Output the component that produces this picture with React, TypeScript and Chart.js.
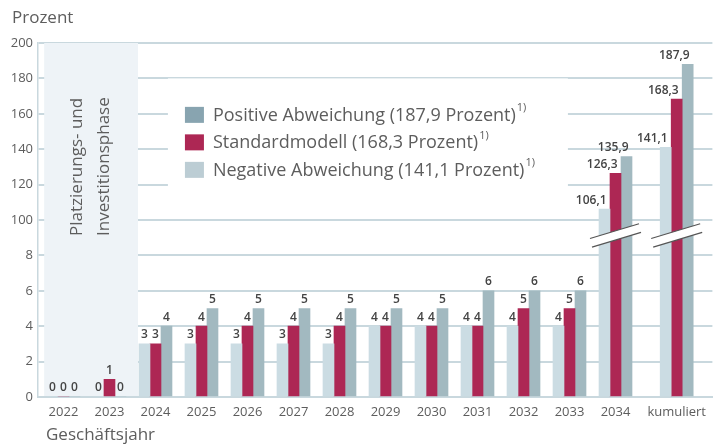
import React, { useEffect, useRef } from "react";
import { Chart, registerables } from "chart.js";

Chart.register(...registerables);

const categories = ["2022", "2023", "2024", "2025", "2026", "2027", "2028", "2029", "2030", "2031", "2032", "2033", "2034", "kumuliert"];
const negative = [0, 0, 3, 3, 3, 3, 3, 4, 4, 4, 4, 4, 106.1, 141.1];
const standard = [0, 1, 3, 4, 4, 4, 4, 4, 4, 4, 5, 5, 126.3, 168.3];
const positive = [0, 0, 4, 5, 5, 5, 5, 5, 5, 6, 6, 6, 135.9, 187.9];
const yTickLabels = ["0", "2", "4", "6", "8", "100", "120", "140", "160", "180", "200"];
const legendLabels = [
  "Positive Abweichung (187,9 Prozent)",
  "Standardmodell (168,3 Prozent)",
  "Negative Abweichung (141,1 Prozent)",
];
const phaseLines = ["Platzierungs- und", "Investitionsphase"];
const yTitle = "Prozent";
const xTitle = "Geschäftsjahr";
const footnote = "1)";

const FONT = '"Open Sans", "Noto Sans", sans-serif';
const TEXT = "#5d5d5d";
const GRID = "#c9d8de";
const C_NEG = "#cbdce3";
const C_STD = "#ad2754";
const C_POS = "#a2b9c0";
const L_NEG = "#bccdd4";
const L_POS = "#88a4b0";
const SUMMARY_GAP = 0.33;
const BREAK_AT = 4.56; // axis units where the broken-axis symbol sits

// broken axis: 0..8 -> 0..4, 100..200 -> 5..10
const toAxis = (v: number) => (v <= 8 ? v / 2 : 5 + (v - 100) / 20);
const xPos = (i: number) => i + (i === categories.length - 1 ? SUMMARY_GAP : 0);
const fmt = (v: number) => (v >= 100 ? v.toFixed(1).replace(".", ",") : String(v));

const rawSeries = [negative, standard, positive];

const overlay = {
  id: "overlay",
  beforeDatasetsDraw(chart: any) {
    const { ctx, chartArea } = chart;
    const xs = chart.scales.x;
    const ys = chart.scales.y;
    ctx.save();
    // phase shading
    const x0 = xs.getPixelForValue(-0.42);
    const x1 = xs.getPixelForValue(1.62);
    ctx.fillStyle = "#eef3f7";
    ctx.fillRect(x0, chartArea.top, x1 - x0, chartArea.bottom - chartArea.top - 1);
    // rotated phase text
    ctx.fillStyle = TEXT;
    ctx.font = `17px ${FONT}`;
    ctx.textAlign = "left";
    ctx.textBaseline = "middle";
    const startY = ys.getPixelForValue(4.55);
    const cx = (x0 + x1) / 2;
    [cx - 14, cx + 13].forEach((lx, k) => {
      ctx.save();
      ctx.translate(lx, startY);
      ctx.rotate(-Math.PI / 2);
      ctx.fillText(phaseLines[k], 0, 0);
      ctx.restore();
    });
    // legend white background (hides gridlines)
    ctx.fillStyle = "#ffffff";
    ctx.fillRect(xs.getPixelForValue(2.27), ys.getPixelForValue(9.0), 400, 120);
    ctx.restore();
  },
  afterDatasetsDraw(chart: any) {
    const { ctx } = chart;
    const xs = chart.scales.x;
    const ys = chart.scales.y;
    ctx.save();
    // legend
    const lx = xs.getPixelForValue(2.64);
    const ly0 = ys.getPixelForValue(7.97);
    const legendColors = [L_POS, C_STD, L_NEG];
    legendLabels.forEach((lab, k) => {
      const cy = ly0 + k * 27.5;
      ctx.fillStyle = legendColors[k];
      ctx.fillRect(lx, cy - 8, 19, 16);
      ctx.fillStyle = TEXT;
      ctx.font = `18px ${FONT}`;
      ctx.textAlign = "left";
      ctx.textBaseline = "middle";
      ctx.fillText(lab, lx + 28, cy + 1);
      const w = ctx.measureText(lab).width;
      ctx.font = `11px ${FONT}`;
      ctx.fillText(footnote, lx + 28 + w + 1, cy - 7);
    });
    // data labels
    ctx.fillStyle = "#444";
    ctx.font = `600 12px ${FONT}`;
    ctx.textBaseline = "bottom";
    rawSeries.forEach((vals, di) => {
      const meta = chart.getDatasetMeta(di);
      meta.data.forEach((bar: any, i: number) => {
        const v = vals[i];
        if (v >= 100) {
          ctx.textAlign = "right";
          ctx.fillText(fmt(v), bar.x + 2, bar.y - 3);
        } else {
          ctx.textAlign = "center";
          ctx.fillText(fmt(v), bar.x, bar.y - 3);
        }
      });
    });
    // broken-axis symbols
    const by = ys.getPixelForValue(BREAK_AT);
    const m0 = chart.getDatasetMeta(0);
    const m2 = chart.getDatasetMeta(2);
    categories.forEach((_, i) => {
      const vmax = Math.max(negative[i], standard[i], positive[i]);
      if (vmax < 100) return;
      const b0 = m0.data[i];
      const b2 = m2.data[i];
      const xa = b0.x - b0.width / 2 - 9;
      const xb = b2.x + b2.width / 2 + 8;
      const cxm = (xa + xb) / 2;
      const slope = -0.3;
      const half = 4.6;
      const yAt = (x: number, off: number) => by + off + slope * (x - cxm);
      ctx.fillStyle = "#ffffff";
      ctx.beginPath();
      ctx.moveTo(xa, yAt(xa, -half));
      ctx.lineTo(xb, yAt(xb, -half));
      ctx.lineTo(xb, yAt(xb, half));
      ctx.lineTo(xa, yAt(xa, half));
      ctx.closePath();
      ctx.fill();
      ctx.strokeStyle = "#555";
      ctx.lineWidth = 1.2;
      [-half, half].forEach((off, k) => {
        ctx.beginPath();
        ctx.moveTo(xa + k * 2, yAt(xa + k * 2, off));
        ctx.lineTo(xb + k * 2 - 1, yAt(xb + k * 2 - 1, off));
        ctx.stroke();
      });
    });
    // axis titles
    ctx.fillStyle = TEXT;
    ctx.font = `17px ${FONT}`;
    ctx.textAlign = "left";
    ctx.textBaseline = "alphabetic";
    ctx.fillText(yTitle, 12, 23);
    ctx.fillText(xTitle, 46, 440);
    ctx.restore();
  },
};

export default function App() {
  const ref = useRef<HTMLCanvasElement | null>(null);
  useEffect(() => {
    if (!ref.current) return;
    const mk = (vals: number[], color: string, label: string) => ({
      label,
      data: vals.map((v, i) => ({ x: xPos(i), y: toAxis(v) })),
      backgroundColor: color,
      borderWidth: 0,
      barThickness: 11,
    });
    const chart = new Chart(ref.current, {
      type: "bar",
      data: {
        datasets: [
          mk(negative, C_NEG, legendLabels[2]),
          mk(standard, C_STD, legendLabels[1]),
          mk(positive, C_POS, legendLabels[0]),
        ],
      },
      options: {
        responsive: false,
        animation: false,
        layout: { padding: { top: 43, right: 0, left: 0, bottom: 0 } },
        plugins: { legend: { display: false }, tooltip: { enabled: false } },
        scales: {
          x: {
            type: "linear",
            offset: false,
            min: -0.554,
            max: 14.106,
            grid: { display: false, drawTicks: false },
            border: { display: true, color: GRID, width: 2 },
            afterBuildTicks: (s: any) => {
              s.ticks = categories.map((_, i) => ({ value: xPos(i) }));
            },
            afterFit: (s: any) => {
              s.height = 47;
            },
            ticks: {
              autoSkip: false,
              maxRotation: 0,
              padding: 7,
              color: TEXT,
              font: { family: FONT, size: 13 },
              callback: (_v: any, i: number) => categories[i],
            },
          },
          y: {
            type: "linear",
            min: 0,
            max: 10,
            grid: { color: GRID, lineWidth: 2, drawTicks: false },
            border: { display: true, color: GRID, width: 1.5 },
            afterFit: (s: any) => {
              s.width = 38;
            },
            ticks: {
              stepSize: 1,
              padding: 5,
              color: TEXT,
              font: { family: FONT, size: 13 },
              callback: (v: any) => yTickLabels[Math.round(Number(v))],
            },
          },
        },
      },
      plugins: [overlay],
    } as any);
    return () => chart.destroy();
  }, []);
  return (
    <div style={{ position: "fixed", left: 0, top: 0, width: 713, height: 444, background: "#fff" }}>
      <canvas ref={ref} width={713} height={444} style={{ display: "block" }} />
    </div>
  );
}
